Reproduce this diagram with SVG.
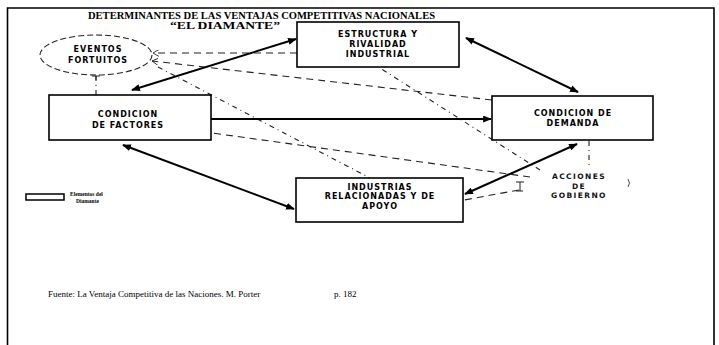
<svg xmlns="http://www.w3.org/2000/svg" width="719" height="345" viewBox="0 0 719 345">
  <style>
    .frame { fill: none; stroke: #000; stroke-width: 1.6; }
    .box { fill: #fff; stroke: #000; stroke-width: 1.6; }
    .lbl { font-family: "DejaVu Sans", "Liberation Sans", sans-serif; font-weight: bold; font-size: 8px; letter-spacing: 1px; fill: #000; text-anchor: middle; }
    .title { font-family: "Liberation Serif", serif; font-weight: bold; font-size: 10px; fill: #000; }
    .note { font-family: "Liberation Serif", serif; font-size: 9px; fill: #000; }
    .gov { font-family: "DejaVu Sans", sans-serif; font-weight: bold; font-size: 7.5px; letter-spacing: 1.4px; fill: #111; text-anchor: middle; }
    .legend { font-family: "Liberation Serif", serif; font-weight: bold; font-size: 5.5px; fill: #000; }
    .solid { fill: none; stroke: #000; stroke-width: 2; }
    .dash { fill: none; stroke: #222; stroke-width: 1.1; stroke-dasharray: 7 5; }
    .dot { fill: none; stroke: #222; stroke-width: 1.1; stroke-dasharray: 5 4 1 4; }
  </style>
  <defs>
    <marker id="head" viewBox="0 0 10 8" refX="9" refY="4" markerWidth="9" markerHeight="7" markerUnits="userSpaceOnUse" orient="auto-start-reverse">
      <path d="M0,0 L10,4 L0,8 Z" fill="#000"/>
    </marker>
    <marker id="open" viewBox="0 0 8 8" refX="7" refY="4" markerWidth="7" markerHeight="7" markerUnits="userSpaceOnUse" orient="auto">
      <path d="M0,0 L7,4 L0,8" fill="none" stroke="#222" stroke-width="1"/>
    </marker>
  </defs>

  <!-- page frame -->
  <path class="frame" d="M7.5,345 V8 H714 V345"/>

  <!-- heading -->
  <text class="title" x="88" y="19" textLength="347" lengthAdjust="spacingAndGlyphs">DETERMINANTES DE LAS VENTAJAS COMPETITIVAS NACIONALES</text>
  <text class="title" x="170" y="29" textLength="110" lengthAdjust="spacingAndGlyphs">“EL DIAMANTE”</text>

  <!-- connectors -->
  <g id="connectors">
    <!-- influences of chance events -->
    <line class="dash" x1="297" y1="53" x2="153" y2="53" marker-end="url(#open)"/>
    <line class="dash" x1="492" y1="100" x2="152" y2="61" marker-end="url(#open)"/>
    <line class="dot" x1="158" y1="67" x2="370" y2="178"/>
    <line class="dot" x1="96" y1="95" x2="96" y2="76"/>
    <path d="M92,76 H100 M96,76 V80" fill="none" stroke="#222" stroke-width="1"/>
    <!-- influences of government -->
    <line class="dot" x1="589" y1="141" x2="589" y2="168"/>
    <line class="dash" x1="519" y1="190" x2="464" y2="200"/>
    <path d="M516,182 H524 M520,182 V191 M516,191 H523" fill="none" stroke="#222" stroke-width="1"/>
    <line class="dash" x1="530" y1="177" x2="212" y2="133"/>
    <line class="dot" x1="540" y1="170" x2="380" y2="68"/>
    <path d="M628,179 Q631,183 628,187" fill="none" stroke="#222" stroke-width="0.8"/>
    <!-- diamond relations -->
    <line class="solid" x1="132" y1="90" x2="296" y2="39" marker-start="url(#head)" marker-end="url(#head)"/>
    <line class="solid" x1="466" y1="38" x2="578" y2="92" marker-start="url(#head)" marker-end="url(#head)"/>
    <line class="solid" x1="211" y1="119" x2="491" y2="119" marker-end="url(#head)"/>
    <line class="solid" x1="123" y1="145" x2="294" y2="209" marker-start="url(#head)" marker-end="url(#head)"/>
    <line class="solid" x1="577" y1="144" x2="465" y2="194" marker-start="url(#head)" marker-end="url(#head)"/>
  </g>

  <g id="eventos">
    <ellipse cx="96" cy="55" rx="56" ry="20" fill="#fff" stroke="#222" stroke-width="1.1" stroke-dasharray="6 3"/>
    <text class="lbl" x="98" y="52">EVENTOS</text>
    <text class="lbl" x="98" y="63">FORTUITOS</text>
  </g>

  <g id="estructura">
    <rect class="box" x="297" y="22" width="162" height="45"/>
    <text class="lbl" x="378" y="37">ESTRUCTURA Y</text>
    <text class="lbl" x="378" y="47">RIVALIDAD</text>
    <text class="lbl" x="378" y="57">INDUSTRIAL</text>
  </g>

  <g id="factores">
    <rect class="box" x="49" y="95" width="162" height="45"/>
    <text class="lbl" x="128" y="117">CONDICION</text>
    <text class="lbl" x="128" y="128">DE FACTORES</text>
  </g>

  <g id="demanda">
    <rect class="box" x="492" y="96" width="161" height="44"/>
    <text class="lbl" x="573" y="116">CONDICION DE</text>
    <text class="lbl" x="573" y="126">DEMANDA</text>
  </g>

  <g id="industrias">
    <rect class="box" x="296" y="178" width="167" height="44"/>
    <text class="lbl" x="380" y="190">INDUSTRIAS</text>
    <text class="lbl" x="380" y="199">RELACIONADAS Y DE</text>
    <text class="lbl" x="380" y="209">APOYO</text>
  </g>

  <g id="gobierno">
    <text class="gov" x="579" y="179">ACCIONES</text>
    <text class="gov" x="579" y="189">DE</text>
    <text class="gov" x="579" y="198">GOBIERNO</text>
  </g>

  <g id="leyenda">
    <rect x="26" y="194" width="38" height="6" fill="#fff" stroke="#000" stroke-width="1.5"/>
    <text class="legend" x="70" y="196">Elementos del</text>
    <text class="legend" x="76" y="203">Diamante</text>
  </g>

  <text class="note" x="48" y="297">Fuente: La Ventaja Competitiva de las Naciones. M. Porter</text>
  <text class="note" x="334" y="297">p. 182</text>
</svg>
